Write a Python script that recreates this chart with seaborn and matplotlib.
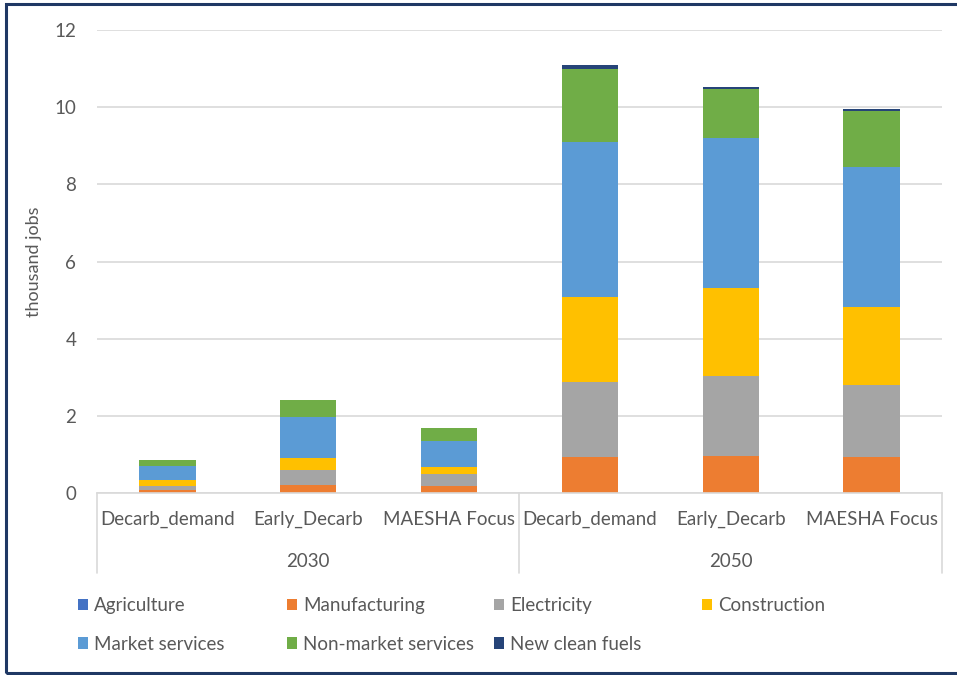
import matplotlib
matplotlib.use("Agg")
import matplotlib.pyplot as plt
from matplotlib.patches import Patch, Rectangle
from matplotlib.lines import Line2D
import seaborn as sns
import pandas as pd
import numpy as np

# Scenario layout
years = ["2030", "2030", "2030", "2050", "2050", "2050"]
scenarios = ["Decarb_demand", "Early_Decarb", "MAESHA Focus",
             "Decarb_demand", "Early_Decarb", "MAESHA Focus"]

# Employment by sector (thousand jobs)
agriculture = [0.01, 0.01, 0.01, 0.01, 0.01, 0.01]
manufacturing = [0.07, 0.20, 0.17, 0.93, 0.96, 0.93]
electricity = [0.11, 0.39, 0.30, 1.93, 2.06, 1.86]
construction = [0.15, 0.31, 0.19, 2.22, 2.29, 2.03]
market_services = [0.36, 1.07, 0.68, 4.01, 3.87, 3.62]
non_market_services = [0.155, 0.43, 0.34, 1.88, 1.27, 1.45]
new_clean_fuels = [0.0, 0.0, 0.0, 0.12, 0.05, 0.06]

sectors = ["Agriculture", "Manufacturing", "Electricity", "Construction",
           "Market services", "Non-market services", "New clean fuels"]
colors = ["#4472C4", "#ED7D31", "#A5A5A5", "#FFC000",
          "#5B9BD5", "#70AD47", "#264478"]

values = [agriculture, manufacturing, electricity, construction,
          market_services, non_market_services, new_clean_fuels]

keys = [f"{y} {s}" for y, s in zip(years, scenarios)]
df = pd.DataFrame({name: v for name, v in zip(sectors, values)})
df["key"] = keys
cum = df[sectors].cumsum(axis=1)
cum["key"] = keys

sns.set_theme(style="white")
font = ["Lato", "DejaVu Sans"]
plt.rcParams["font.family"] = font
text_color = "#595959"
grid_color = "#D9D9D9"
fs = 13.5

fig = plt.figure(figsize=(9.57, 6.75), dpi=100)
ax = fig.add_axes([97 / 957, (675 - 493) / 675, (942 - 97) / 957, 463 / 675])

# Stacked bars: draw cumulative totals from the top series down
for name, col in reversed(list(zip(sectors, colors))):
    sns.barplot(data=cum, x="key", y=name, order=keys, color=col,
                width=0.4, saturation=1, ax=ax, linewidth=0, errorbar=None)

ax.set_xlim(-0.5, 5.5)
ax.set_ylim(0, 12)
ax.set_yticks(np.arange(0, 13, 2))
ax.set_axisbelow(True)
ax.yaxis.grid(True, color=grid_color, linewidth=1.2)
ax.xaxis.grid(False)
for side in ["top", "right", "left"]:
    ax.spines[side].set_visible(False)
ax.spines["bottom"].set_color(grid_color)
ax.spines["bottom"].set_linewidth(1.2)
ax.tick_params(axis="y", length=0, pad=15, labelsize=fs, labelcolor=text_color)
ax.set_xticks([])
ax.set_xlabel("")
ax.set_ylabel("thousand jobs", fontsize=13, color=text_color, labelpad=9)

# Two-level category axis
trans = ax.get_xaxis_transform()
for i, s in enumerate(scenarios):
    ax.text(i, -0.058, s, transform=trans, ha="center", va="center",
            fontsize=fs, color=text_color)
for center, y in [(1, "2030"), (4, "2050")]:
    ax.text(center, -0.147, y, transform=trans, ha="center", va="center",
            fontsize=fs, color=text_color)
for xs in [-0.5, 2.5, 5.5]:
    ax.add_line(Line2D([xs, xs], [0, -0.173], transform=trans, color=grid_color,
                       linewidth=1.2, clip_on=False))

# Legend laid out as four evenly spaced columns
columns = [[0, 4], [1, 5], [2, 6], [3]]
col_x = [78, 287, 494, 702]
for cx, idx in zip(col_x, columns):
    handles = [Patch(facecolor=colors[i], edgecolor="none", label=sectors[i]) for i in idx]
    fig.legend(handles=handles, loc="upper left",
               bbox_to_anchor=(cx / 957, 1 - 597 / 675), frameon=False,
               fontsize=fs, handlelength=0.55, handleheight=0.55,
               handletextpad=0.3, labelspacing=1.15, borderaxespad=0,
               borderpad=0, labelcolor=text_color)

# Outer frame
fig.add_artist(Rectangle((6 / 957, 2 / 675), 1.0, 669 / 675, transform=fig.transFigure,
                         fill=False, edgecolor="#1F3864", linewidth=2.2, clip_on=False))

fig.savefig("out.png", dpi=100, facecolor="white")
